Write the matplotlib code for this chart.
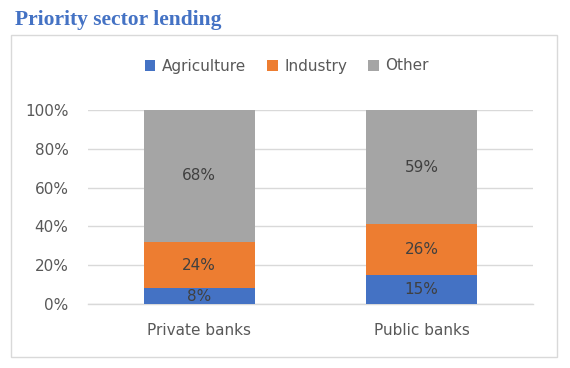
"""Priority sector lending: 100% stacked columns, private vs public banks."""
import matplotlib.pyplot as plt
import numpy as np
from matplotlib.patches import Rectangle

BANKS = ["Private banks", "Public banks"]
SECTORS = ["Agriculture", "Industry", "Other"]
AGRICULTURE = [8, 15]
INDUSTRY = [24, 26]
OTHER = [68, 59]
Y_TICKS = [0, 20, 40, 60, 80, 100]

COLORS = ["#4472C4", "#ED7D31", "#A5A5A5"]
TICK_INK = "#595959"
LABEL_INK = "#404040"
GRID = "#D9D9D9"


def main():
    plt.rcParams["font.family"] = ["DejaVu Sans"]
    fig = plt.figure(figsize=(5.70, 3.68), dpi=100)
    ax = fig.add_axes([88 / 570, 1 - 304 / 368, 445 / 570, 194 / 368])

    x = np.arange(len(BANKS))
    bottom = np.zeros(len(BANKS))
    for name, vals, col in zip(SECTORS, [AGRICULTURE, INDUSTRY, OTHER], COLORS):
        vals = np.array(vals, dtype=float)
        ax.bar(x, vals, width=0.5, bottom=bottom, color=col, label=name, zorder=3)
        for xi, b, v in zip(x, bottom, vals):
            ax.text(xi, b + v / 2, f"{v:.0f}%", ha="center", va="center",
                    fontsize=11, color=LABEL_INK, zorder=4)
        bottom += vals

    ax.set_xlim(-0.5, 1.5)
    ax.set_ylim(0, 100)
    ax.set_yticks(Y_TICKS, [f"{t}%" for t in Y_TICKS])
    ax.set_xticks(x, BANKS)
    ax.tick_params(length=0, labelsize=11, colors=TICK_INK)
    ax.tick_params(axis="x", pad=14)
    ax.tick_params(axis="y", pad=14)
    ax.grid(axis="y", color=GRID, linewidth=1.0, zorder=0)
    ax.axhline(0, color=GRID, linewidth=1.0, zorder=2, clip_on=False)
    ax.set_axisbelow(True)
    for s in ax.spines.values():
        s.set_visible(False)

    handles, labels = ax.get_legend_handles_labels()
    fig.legend(handles, labels, ncol=3, frameon=False, loc="center",
               bbox_to_anchor=(0.503, 1 - 66 / 368), fontsize=11,
               labelcolor=TICK_INK, handlelength=0.7, handleheight=0.7,
               handletextpad=0.4, columnspacing=1.4)

    fig.patches.append(Rectangle((11 / 570, 1 - 357 / 368), 546 / 570, 322 / 368,
                                 transform=fig.transFigure, fill=False,
                                 edgecolor=GRID, linewidth=1.0))
    fig.text(15 / 570, 1 - 20 / 368, "Priority sector lending", ha="left",
             va="center", fontsize=15.5, fontweight="bold", color="#4472C4",
             family=["Liberation Serif", "DejaVu Serif"])

    fig.savefig("out.png", dpi=100)
    plt.close(fig)


if __name__ == "__main__":
    main()
